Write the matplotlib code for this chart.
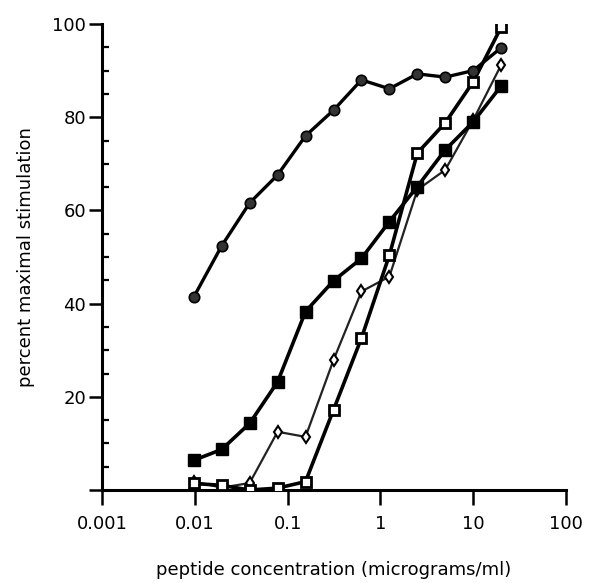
import matplotlib
matplotlib.use('Agg')
import matplotlib.pyplot as plt
from matplotlib.ticker import MultipleLocator, FixedLocator

# concentrations (micrograms/ml), doubling dilutions
conc = [0.0098, 0.0195, 0.039, 0.078, 0.156, 0.3125, 0.625, 1.25, 2.5, 5, 10, 20]

# percent maximal stimulation for each peptide
circles = [41.5, 52.4, 61.6, 67.6, 76.0, 81.5, 88.0, 86.1, 89.3, 88.6, 90.0, 94.9]
filled_sq = [6.4, 8.7, 14.3, 23.2, 38.3, 44.9, 49.7, 57.6, 65.1, 73.0, 79.0, 86.7]
open_sq = [1.4, 1.0, 0.0, 0.4, 1.8, 17.2, 32.6, 50.4, 72.3, 78.8, 87.6, 99.3]
diamonds = [1.8, 0.5, 1.5, 12.5, 11.4, 27.9, 42.6, 45.8, 64.4, 68.7, 79.4, 91.2]

xticks = [0.001, 0.01, 0.1, 1, 10, 100]
xticklabels = ['0.001', '0.01', '0.1', '1', '10', '100']
yticks = [0, 20, 40, 60, 80, 100]
yticklabels = ['', '20', '40', '60', '80', '100']

plt.rcParams['font.family'] = ['DejaVu Sans']

fig = plt.figure(figsize=(5.98, 5.83), dpi=100)
ax = fig.add_axes([102 / 598, 93 / 583, 464 / 598, 466 / 583])

ax.plot(conc, diamonds, '-', color='#222222', lw=1.6, marker='d', ms=6.5,
        mfc='white', mec='black', mew=1.5, zorder=3)
ax.plot(conc, open_sq, '-', color='black', lw=2.6, marker='s', ms=7.5,
        mfc='white', mec='black', mew=2.0, zorder=4)
ax.plot(conc, filled_sq, '-', color='black', lw=2.6, marker='s', ms=8,
        mfc='black', mec='black', zorder=5)
ax.plot(conc, circles, '-', color='black', lw=2.4, marker='o', ms=7.5,
        mfc='#333333', mec='black', mew=1.2, zorder=6)

ax.set_xscale('log')
ax.set_xlim(0.001, 100)
ax.set_ylim(0, 100)
ax.xaxis.set_major_locator(FixedLocator(xticks))
ax.xaxis.set_minor_locator(FixedLocator([]))
ax.set_xticklabels(xticklabels)
ax.set_yticks(yticks)
ax.set_yticklabels(yticklabels)
ax.yaxis.set_minor_locator(MultipleLocator(5))

for s in ['top', 'right']:
    ax.spines[s].set_visible(False)
for s in ['left', 'bottom']:
    ax.spines[s].set_linewidth(2.2)
ax.spines['bottom'].set_zorder(2)

ax.tick_params(axis='x', which='major', direction='out', length=11, width=1.8,
               labelsize=13, pad=7)
ax.tick_params(axis='y', which='major', direction='out', length=9.5, width=1.8,
               labelsize=13, pad=2)
ax.tick_params(axis='y', which='minor', direction='in', length=5, width=1.6)

ax.set_xlabel('peptide concentration (micrograms/ml)', fontsize=13, labelpad=20)
ax.set_ylabel('percent maximal stimulation', fontsize=13, labelpad=12)

fig.savefig('out.png', dpi=100)
